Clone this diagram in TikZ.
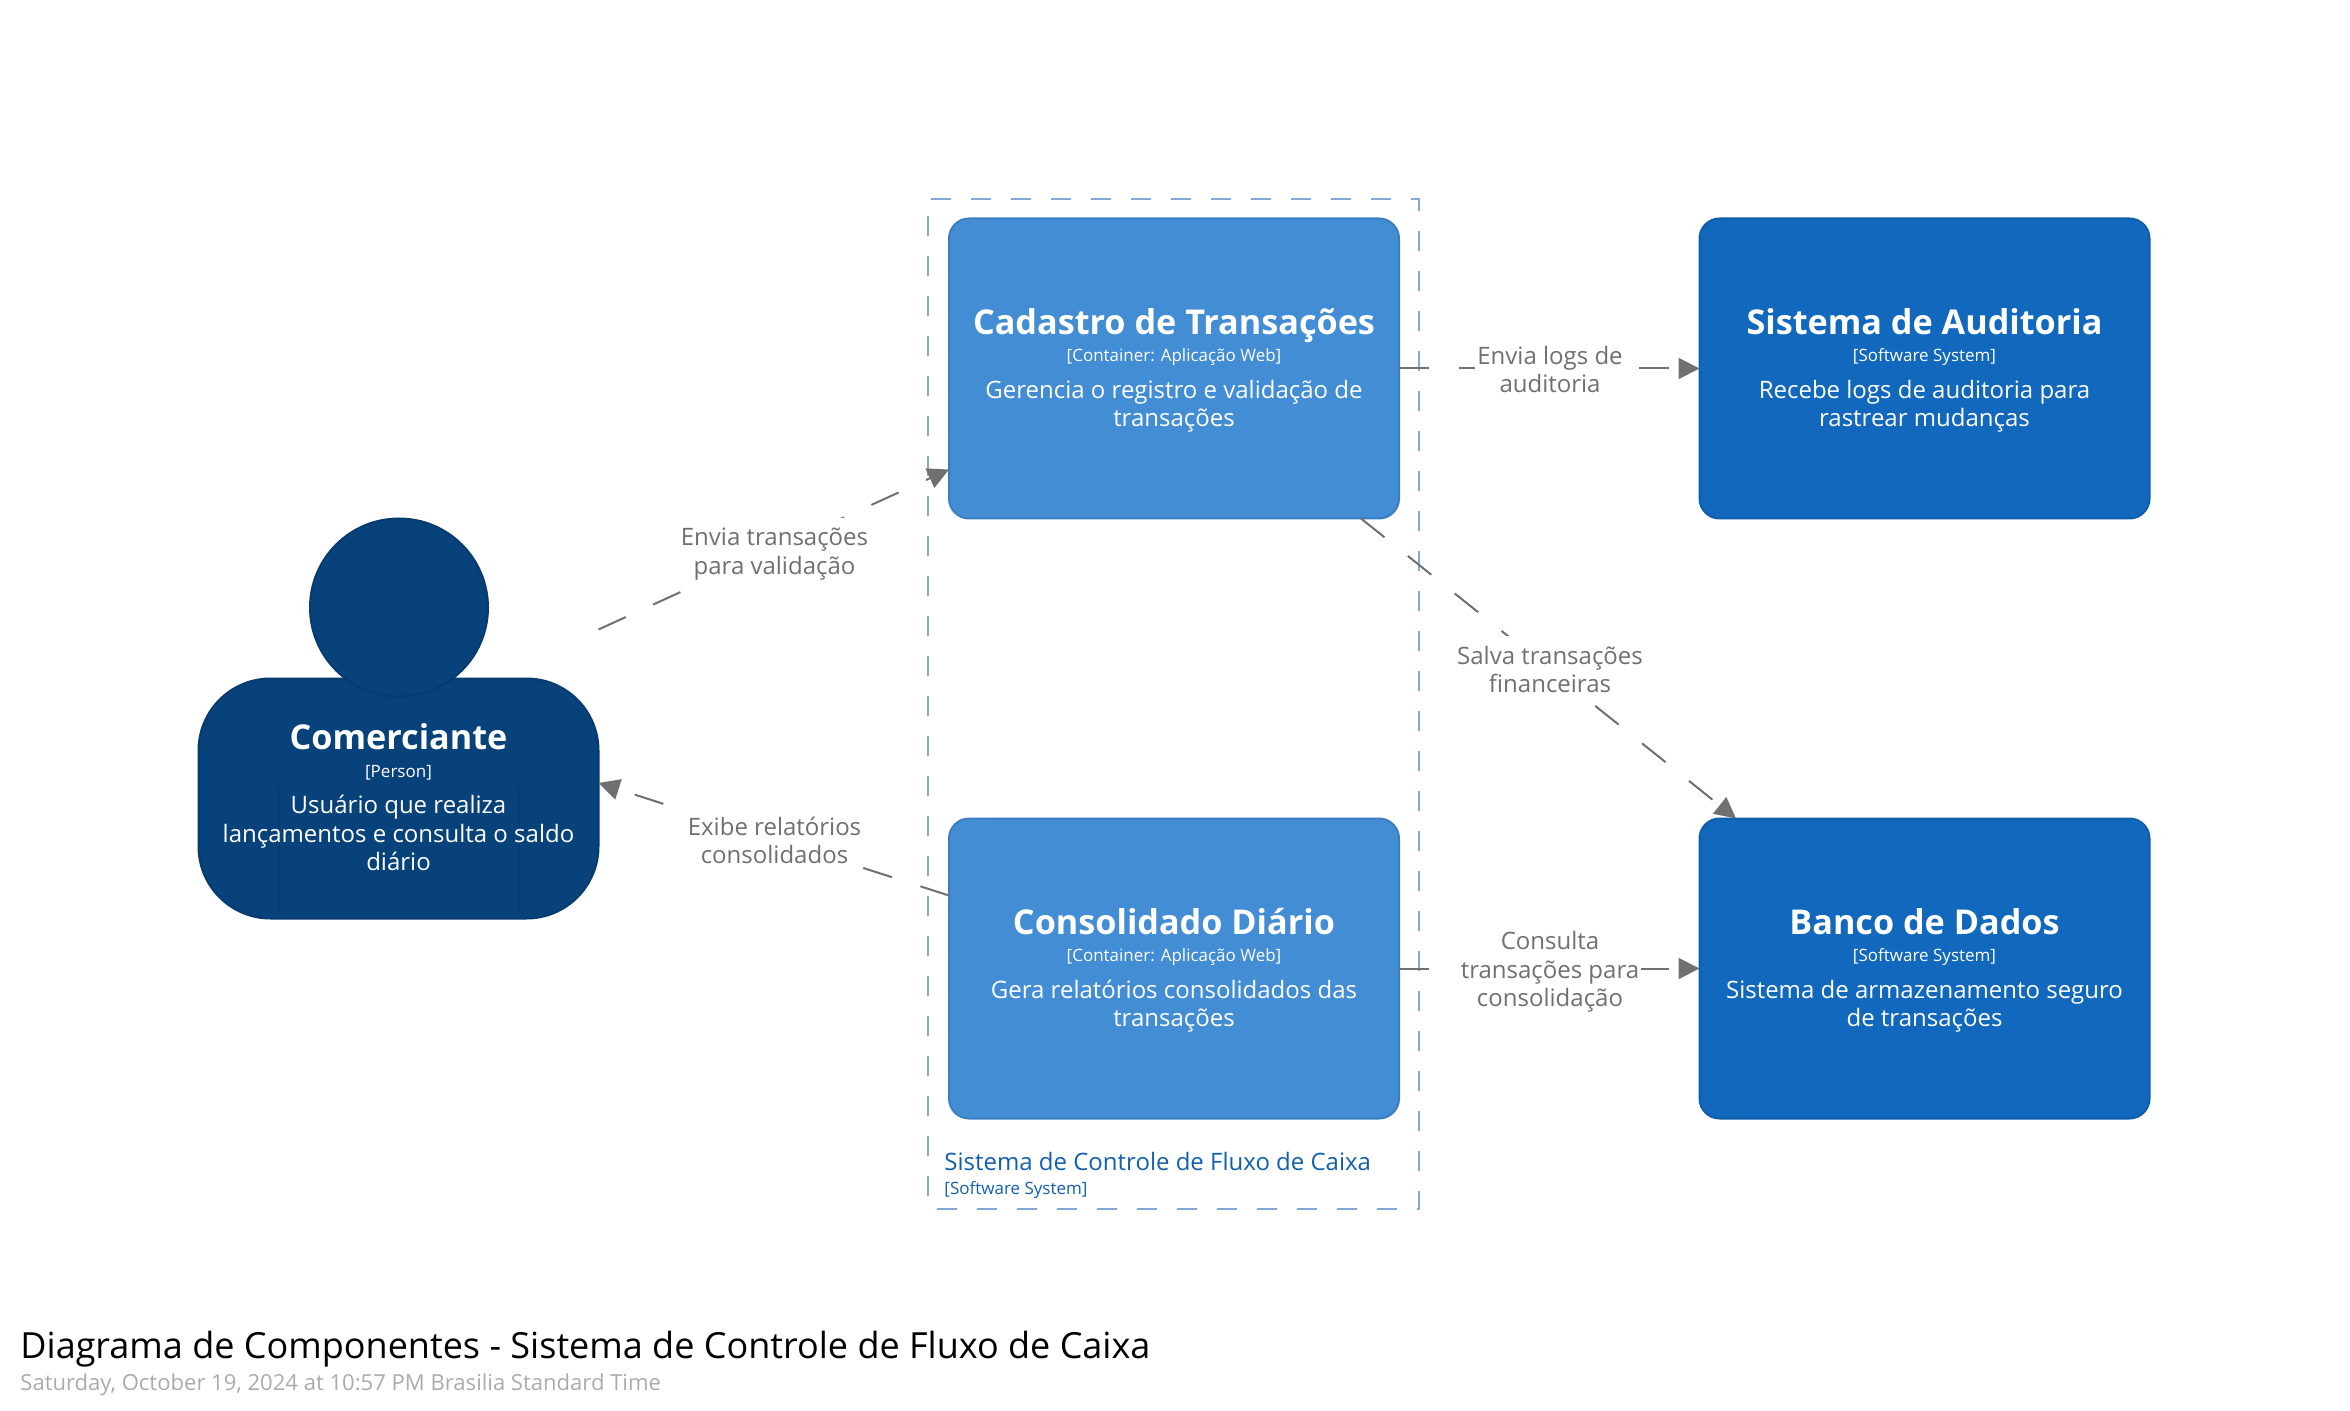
\documentclass[tikz,border=0pt]{standalone}
\usepackage{fontspec}
\setmainfont{Open Sans}
\usetikzlibrary{arrows.meta}
\definecolor{personfill}{HTML}{08427B}
\definecolor{personline}{HTML}{073B6F}
\definecolor{containerfill}{HTML}{438DD5}
\definecolor{containerline}{HTML}{3C7FC0}
\definecolor{systemfill}{HTML}{1168BD}
\definecolor{systemline}{HTML}{0F5EAA}
\definecolor{boundaryline}{HTML}{85A9D6}
\definecolor{boundarytext}{HTML}{1160AE}
\definecolor{relgray}{HTML}{707070}
\newcommand{\descfont}{\fontsize{12}{14.25}\selectfont}
\newcommand{\namefont}{\fontsize{17.1}{20}\bfseries\selectfont}
\newcommand{\metafont}{\fontsize{8.5}{10}\selectfont}
\newcommand{\boxtext}[3]{{\namefont\rule{0pt}{15pt}#1}\\[-.5pt]{\metafont #2}\\[4pt]#3}
\tikzset{
  card/.style={rectangle, rounded corners=10pt, line width=1pt, outer sep=0pt,
    minimum width=225pt, minimum height=150pt, text=white, align=center, font=\descfont},
  containercard/.style={card, draw=containerline, fill=containerfill},
  systemcard/.style={card, draw=systemline, fill=systemfill},
  rel/.style={draw=relgray, line width=1pt, dash pattern=on 15pt off 15pt,
    -{Triangle[length=10.5pt,width=10.5pt]}},
  rellabel/.style={fill=white, text=relgray, align=center, inner xsep=1pt, inner ysep=5pt, font=\descfont},
}
\begin{document}
\begin{tikzpicture}[x=.5pt,y=-.5pt]
\useasboundingbox (0,0) rectangle (2350,1411);
\node[draw=boundaryline, line width=1pt, outer sep=0pt, minimum width=245.5pt, minimum height=505pt,
  dash pattern=on 10pt off 10pt, dash phase=15.5pt] (sistema) at (1173,704) {};
\node[anchor=base west, text=boundarytext, font=\descfont, inner sep=0pt] (sistemaName) at (944,1170) {Sistema de Controle de Fluxo de Caixa};
\node[anchor=base west, text=boundarytext, font=\metafont, inner sep=0pt] (sistemaMeta) at (944,1194) {[Software System]};

\node[containercard] (cadastro) at (1174,368.5) {\boxtext{Cadastro de Transações}{[Container: Aplicação Web]}{Gerencia o registro e validação de\\transações}};
\node[containercard] (consolidado) at (1174,968.5) {\boxtext{Consolidado Diário}{[Container: Aplicação Web]}{Gera relatórios consolidados das\\transações}};
\node[systemcard] (auditoria) at (1924.5,368.5) {\boxtext{Sistema de Auditoria}{[Software System]}{Recebe logs de auditoria para\\rastrear mudanças}};
\node[systemcard] (banco) at (1924.5,968.5) {\boxtext{Banco de Dados}{[Software System]}{Sistema de armazenamento seguro\\de transações}};

\node[rectangle, rounded corners=36pt, draw=personline, fill=personfill, line width=1pt, outer sep=0pt,
  minimum width=200pt, minimum height=120pt] (comerciante) at (398.5,798.5) {};
\node[circle, draw=personline, fill=personfill, line width=1pt, minimum size=89pt, inner sep=0pt] (cabeca) at (399,607.5) {};
\draw[personline, line width=.75pt] ([xshift=40.5pt]comerciante.south west) -- ++(0,-133);
\draw[personline, line width=.75pt] ([xshift=160.5pt]comerciante.south west) -- ++(0,-133);
\node[text=white, align=center, font=\descfont] (comercianteText) at (398.5,795.5) {\boxtext{Comerciante}{[Person]}{Usuário que realiza\\lançamentos e consulta o saldo\\diário}};

\draw[rel] ([yshift=24.5pt]comerciante.north east) -- ([yshift=-50.5pt]cadastro.west);
\draw[rel] ([yshift=36.5pt]consolidado.west) -- ([yshift=7.75pt]comerciante.east);
\draw[rel] (cadastro.east) -- (auditoria.west);
\draw[rel] ([xshift=93.5pt]cadastro.south) -- ([xshift=-94.25pt]banco.north);
\draw[rel] (consolidado.east) -- (banco.west);

\node[rellabel] (enviaTransacoes) at (774.5,554) {Envia transações\\para validação};
\node[rellabel] (exibeRelatorios) at (774.5,840.5) {Exibe relatórios\\consolidados};
\node[rellabel] (enviaLogs) at (1550,369.5) {Envia logs de\\auditoria};
\node[rellabel] (salvaTransacoes) at (1550,669.5) {Salva transações\\financeiras};
\node[rellabel] (consultaTransacoes) at (1550,972) {Consulta\\transações para\\consolidação};

\node[anchor=base west, font=\fontsize{18}{22}\selectfont, inner sep=0pt] (titulo) at (20,1358) {Diagrama de Componentes - Sistema de Controle de Fluxo de Caixa};
\node[anchor=base west, text=black!33, font=\fontsize{11.03}{13}\selectfont, inner sep=0pt] (data) at (20,1390) {Saturday, October 19, 2024 at 10:57 PM Brasilia Standard Time};
\end{tikzpicture}
\end{document}
